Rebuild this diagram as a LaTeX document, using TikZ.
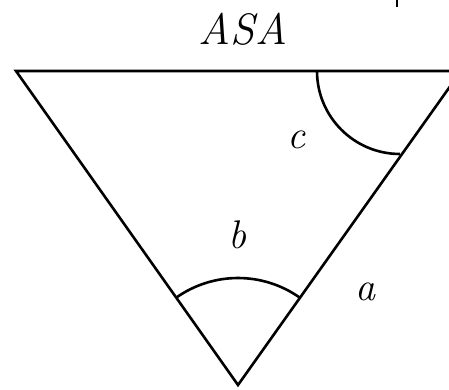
\documentclass[tikz,border=0pt]{standalone}
\usepackage{fontspec}
\usetikzlibrary{calc}

\tikzset{
  side/.style={line width=2.6pt, line join=miter},
  lbl/.style={inner sep=0pt, font=\fontsize{40}{48}\selectfont\itshape},
}

\begin{document}
\begin{tikzpicture}[x=1pt,y=1pt]
        \useasboundingbox (0,0) rectangle (449,389);
        \clip (0,0) rectangle (449,389);

        \coordinate (left) at (16, 318);
        \coordinate (right) at (461, 318);
        \coordinate (apex) at (238, 4);

        \node[lbl, font=\fontsize{44}{52}\selectfont\itshape] (title) at (243, 360) {ASA};

        \draw [side] (left) -- (right) -- (apex) -- cycle;

        % angle at the right corner
        \coordinate (c0) at ($(right) + (-144,0)$);
        \draw [side] (c0) arc [start angle=180, end angle=270, radius=83];
        \node[lbl] (c) at (296, 249) {c};

        % angle at the apex
        \coordinate (b0) at ($(apex) + (54.8:107)$);
        \draw [side] (b0) arc [start angle=54.8, end angle=125.2, radius=107];
        \node[lbl] (b) at (237, 154) {b};

        \node[lbl] (a) at (365, 97) {a};

        \coordinate (t0) at (397, 389);
        \coordinate (t1) at (397, 382);
        \draw [side] (t0) -- (t1);
    \end{tikzpicture}
\end{document}
